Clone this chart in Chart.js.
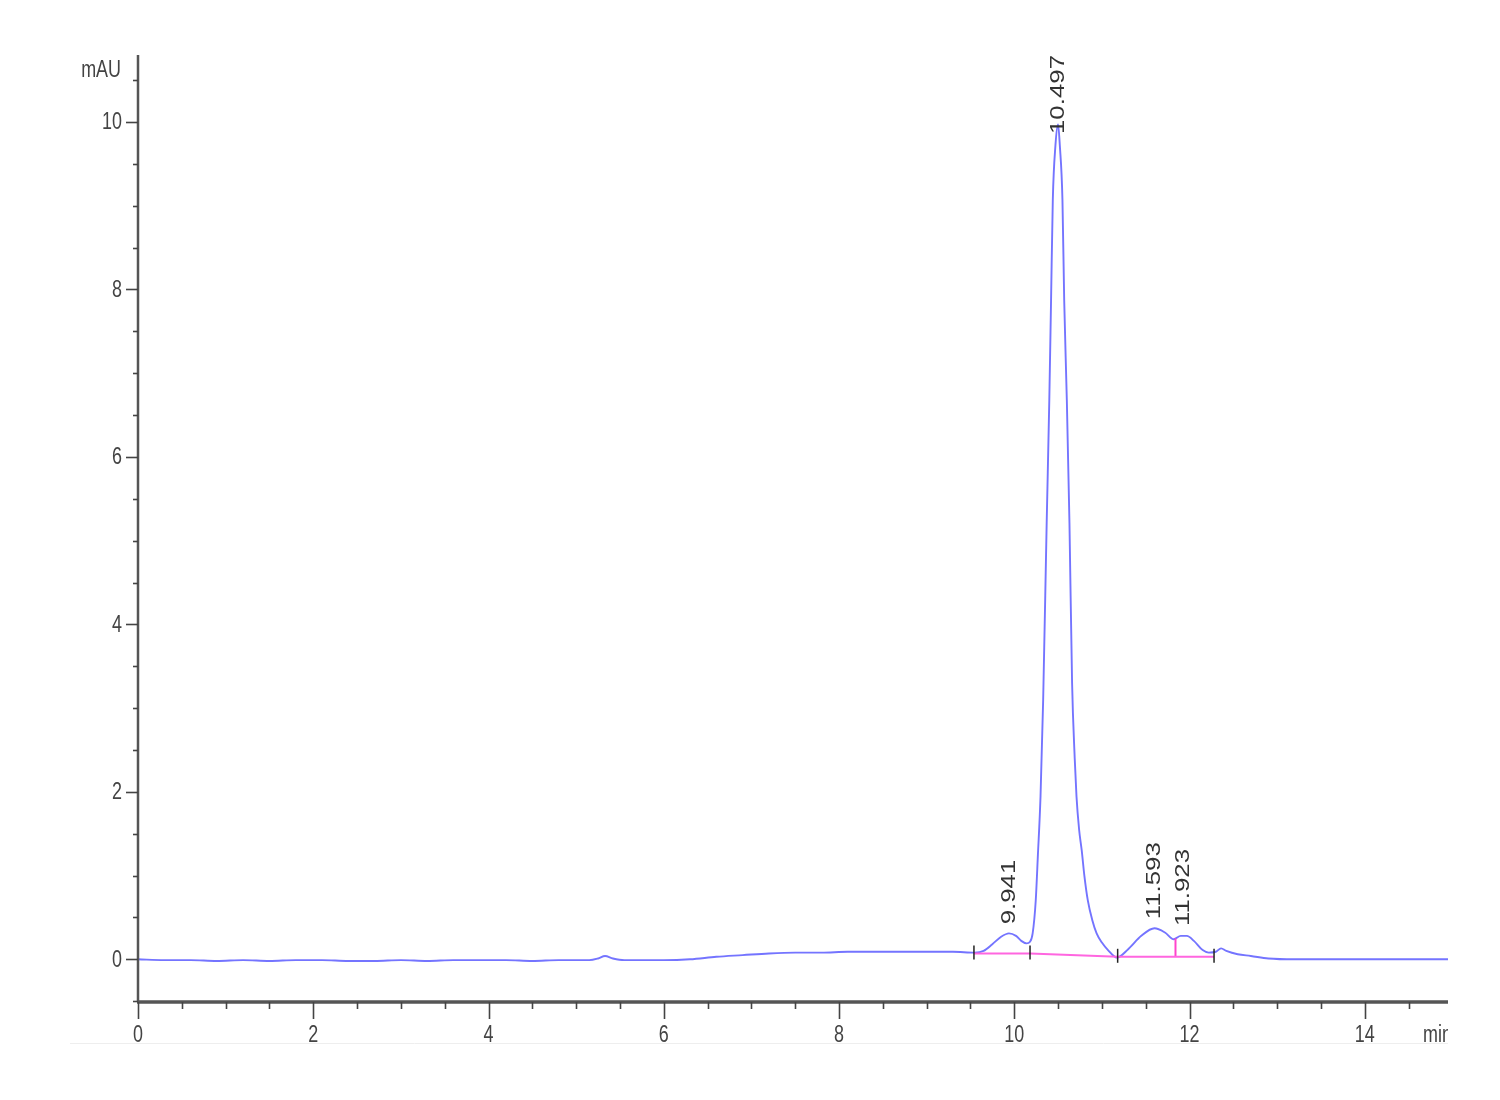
<!DOCTYPE html>
<html>
<head>
<meta charset="utf-8">
<script src="https://cdn.jsdelivr.net/npm/chart.js@4.4.0/dist/chart.umd.min.js"></script>
<style>
  html, body { margin: 0; background: #fff; }
</style>
</head>
<body>
<canvas id="chart" width="1500" height="1100"></canvas>
<script>
// retention time (min) and detector signal (mAU)
const timeMin = [
  0.00, 0.30, 0.60, 0.90, 1.20, 1.50, 1.80, 2.10, 2.40, 2.70,
  3.00, 3.30, 3.60, 3.90, 4.20, 4.50, 4.80, 5.00, 5.15, 5.25,
  5.33, 5.42, 5.55, 5.80, 6.00, 6.30, 6.60, 6.90, 7.20, 7.50,
  7.80, 8.10, 8.40, 8.70, 9.00, 9.30, 9.55, 9.65, 9.75, 9.85,
  9.94, 10.02, 10.08, 10.14, 10.18, 10.21, 10.245, 10.27, 10.30, 10.33,
  10.37, 10.40, 10.42, 10.44, 10.47, 10.50, 10.52, 10.55, 10.57, 10.60,
  10.63, 10.66, 10.69, 10.71, 10.74, 10.77, 10.80, 10.84, 10.89, 10.94,
  11.00, 11.07, 11.17, 11.30, 11.45, 11.60, 11.72, 11.82, 11.90, 11.97,
  12.05, 12.15, 12.22, 12.30, 12.36, 12.42, 12.55, 12.70, 12.90, 13.20,
  13.60, 14.00, 14.50, 14.95
];
const signal = [
  0.00, -0.01, -0.01, -0.02, -0.01, -0.02, -0.01, -0.01, -0.02, -0.02,
  -0.01, -0.02, -0.01, -0.01, -0.01, -0.02, -0.01, -0.01, -0.01, 0.01,
  0.04, 0.01, -0.01, -0.01, -0.01, 0.00, 0.03, 0.05, 0.07, 0.08,
  0.08, 0.09, 0.09, 0.09, 0.09, 0.09, 0.08, 0.10, 0.18, 0.27,
  0.31, 0.28, 0.22, 0.19, 0.21, 0.31, 0.70, 1.25, 1.95, 3.10,
  5.21, 6.68, 7.87, 9.07, 9.72, 9.97, 9.72, 9.07, 7.87, 6.68,
  5.21, 3.30, 2.40, 1.95, 1.55, 1.30, 1.00, 0.70, 0.47, 0.31,
  0.20, 0.11, 0.02, 0.12, 0.28, 0.37, 0.32, 0.24, 0.28, 0.28,
  0.22, 0.11, 0.08, 0.09, 0.13, 0.10, 0.06, 0.04, 0.01, 0.00,
  0.00, 0.00, 0.00, 0.00
];

// integration baseline (pink) and peak marks
const baseTime = [9.54, 10.18, 11.18, 12.28];
const baseLevel = [0.07, 0.07, 0.03, 0.03];
const splitTime = [11.84, 11.84];
const splitLevel = [0.03, 0.25];
const peakTimes = [9.941, 10.497, 11.593, 11.923];
const peakHeights = [0.31, 9.97, 0.37, 0.29];
const peakLabels = ['9.941', '10.497', '11.593', '11.923'];

const xTickValues = [0, 2, 4, 6, 8, 10, 12, 14];
const yTickValues = [0, 2, 4, 6, 8, 10];

const toPoints = (xs, ys) => xs.map((x, i) => ({ x: x, y: ys[i] }));

const LABEL_FONT = '23px "Liberation Sans", Arial, sans-serif';

function squeezedText(ctx, text, x, y, sx) {
  ctx.save();
  ctx.translate(x, y);
  ctx.scale(sx, 1);
  ctx.fillText(text, 0, 0);
  ctx.restore();
}

const chromPlugin = {
  id: 'chrom',
  afterDatasetsDraw(chart) {
    const ctx = chart.ctx;
    const xs = chart.scales.x, ys = chart.scales.y;
    const area = chart.chartArea;

    ctx.save();
    // faint frame line under the axis labels
    ctx.strokeStyle = '#eeeeee';
    ctx.lineWidth = 1;
    ctx.beginPath();
    ctx.moveTo(70, 1043.5);
    ctx.lineTo(area.right, 1043.5);
    ctx.stroke();

    // axis lines
    ctx.strokeStyle = '#555';
    ctx.lineWidth = 2.5;
    ctx.beginPath();
    ctx.moveTo(area.left, area.top);
    ctx.lineTo(area.left, area.bottom);
    ctx.stroke();
    ctx.lineWidth = 3.5;
    ctx.beginPath();
    ctx.moveTo(area.left - 1, area.bottom);
    ctx.lineTo(area.right, area.bottom);
    ctx.stroke();

    // ticks
    ctx.lineWidth = 1.6;
    ctx.strokeStyle = '#444';
    for (let v = -0.5; v <= 10.5001; v += 0.5) {
      const py = Math.round(ys.getPixelForValue(v)) + 0.5;
      const major = yTickValues.includes(Math.round(v * 10) / 10);
      ctx.beginPath();
      ctx.moveTo(area.left - (major ? 12 : 5), py);
      ctx.lineTo(area.left, py);
      ctx.stroke();
    }
    for (let v = 0; v <= 14.9; v += 0.5) {
      const px = Math.round(xs.getPixelForValue(v)) + 0.5;
      const major = xTickValues.includes(Math.round(v * 10) / 10);
      ctx.beginPath();
      ctx.moveTo(px, area.bottom);
      ctx.lineTo(px, area.bottom + (major ? 17 : 7));
      ctx.stroke();
    }

    // tick labels
    ctx.fillStyle = '#444';
    ctx.font = LABEL_FONT;
    ctx.textBaseline = 'middle';
    ctx.textAlign = 'right';
    yTickValues.forEach(v => {
      squeezedText(ctx, String(v), area.left - 16, ys.getPixelForValue(v) + 1, 0.78);
    });
    ctx.textAlign = 'center';
    ctx.textBaseline = 'top';
    xTickValues.forEach(v => {
      squeezedText(ctx, String(v), xs.getPixelForValue(v), area.bottom + 22, 0.78);
    });

    // axis units
    ctx.textAlign = 'right';
    ctx.textBaseline = 'middle';
    squeezedText(ctx, 'mAU', area.left - 17, 71, 0.78);
    ctx.save();
    ctx.beginPath();
    ctx.rect(0, 0, area.right, 1100);
    ctx.clip();
    ctx.textAlign = 'left';
    squeezedText(ctx, 'min', area.right - 25, area.bottom + 34, 0.78);
    ctx.restore();

    // peak boundary marks
    ctx.strokeStyle = '#222';
    ctx.lineWidth = 1.5;
    baseTime.forEach((t, i) => {
      const px = xs.getPixelForValue(t);
      const py = ys.getPixelForValue(baseLevel[i]);
      ctx.beginPath();
      ctx.moveTo(px, py - 8);
      ctx.lineTo(px, py + 6);
      ctx.stroke();
    });

    // retention time labels
    ctx.fillStyle = '#333';
    ctx.font = '21px "Liberation Sans", Arial, sans-serif';
    ctx.textAlign = 'left';
    ctx.textBaseline = 'middle';
    const stretch = 1.23;
    peakTimes.forEach((t, i) => {
      const px = xs.getPixelForValue(t);
      const len = ctx.measureText(peakLabels[i]).width * stretch;
      const start = Math.max(ys.getPixelForValue(peakHeights[i]) - 9, area.top + len);
      ctx.save();
      ctx.translate(px, start);
      ctx.rotate(-Math.PI / 2);
      ctx.scale(stretch, 1);
      ctx.fillText(peakLabels[i], 0, 0);
      ctx.restore();
    });
    ctx.restore();
  }
};

const chart = new Chart(document.getElementById('chart').getContext('2d'), {
  type: 'line',
  data: {
    datasets: [
      {
        label: 'baseline',
        data: toPoints(baseTime, baseLevel),
        borderColor: '#ff66e0',
        borderWidth: 2,
        pointRadius: 0,
        tension: 0
      },
      {
        label: 'split',
        data: toPoints(splitTime, splitLevel),
        borderColor: '#ff44cc',
        borderWidth: 2,
        pointRadius: 0
      },
      {
        label: 'signal',
        data: toPoints(timeMin, signal),
        borderColor: '#7474ff',
        borderWidth: 1.9,
        pointRadius: 0,
        cubicInterpolationMode: 'monotone'
      }
    ]
  },
  options: {
    responsive: false,
    animation: false,
    devicePixelRatio: 1,
    layout: { padding: { top: 55, right: 52, left: 0, bottom: 0 } },
    plugins: {
      legend: { display: false },
      tooltip: { enabled: false }
    },
    scales: {
      x: {
        type: 'linear',
        min: 0,
        max: 14.95,
        grid: { display: false },
        border: { display: false },
        ticks: { display: false },
        afterFit(scale) { scale.height = 98; }
      },
      y: {
        min: -0.51,
        max: 10.8,
        grid: { display: false },
        border: { display: false },
        ticks: { display: false },
        afterFit(scale) { scale.width = 138; }
      }
    }
  },
  plugins: [chromPlugin]
});
</script>
</body>
</html>
